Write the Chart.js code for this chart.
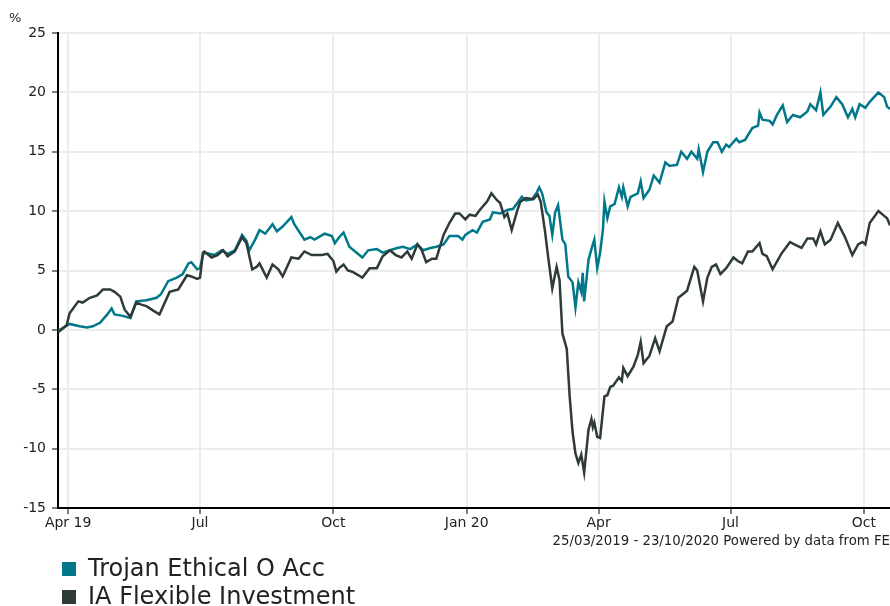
<!DOCTYPE html>
<html>
<head>
<meta charset="utf-8">
<script src="https://cdn.jsdelivr.net/npm/chart.js@4.4.0/dist/chart.umd.min.js"></script>
<style>
  body { margin: 0; background: #fff; font-family: 'DejaVu Sans', Verdana, sans-serif; }
  #wrap { position: relative; width: 890px; height: 606px; overflow: hidden; }
  #pct { position: absolute; left: 9px; top: 10px; font-size: 13px; color: #222; }
  #footer { position: absolute; right: 0; top: 533px; font-size: 13.3px; color: #222; white-space: nowrap; }
  .leg { position: absolute; left: 62px; font-size: 24px; line-height: 28px; color: #222; white-space: nowrap; }
  .leg span { display: inline-block; width: 14px; height: 14px; margin-right: 12px; vertical-align: 0px; }
</style>
</head>
<body>
<div id="wrap">
  <canvas id="perfChart" width="890" height="606"></canvas>
  <div id="pct">%</div>
  <div id="footer">25/03/2019 - 23/10/2020 Powered by data from FE</div>
  <div class="leg" style="top:554px"><span style="background:#00788a"></span>Trojan Ethical O Acc</div>
  <div class="leg" style="top:582px"><span style="background:#2e3b38"></span>IA Flexible Investment</div>
</div>
<script>
// дни от 25/03/2019
const monthDays = [7, 98, 190, 282, 373, 464, 556];
const monthLabels = ['Apr 19', 'Jul', 'Oct', 'Jan 20', 'Apr', 'Jul', 'Oct'];

// Trojan Ethical O Acc
const trojanDays = [0, 8, 15, 20, 24, 29, 34, 37, 39, 44, 50, 54, 61, 68, 71, 76, 82, 86, 90, 92, 96, 98, 100, 101,
  108, 113, 117, 122, 127, 130, 132, 136, 139, 143, 148, 151, 155, 161, 163, 170, 174, 177, 184, 189, 191, 194,
  197, 199, 201, 206, 210, 214, 220, 224, 229, 234, 238, 243, 248, 252, 257, 261, 266, 270, 276, 279, 281, 286,
  289, 293, 298, 300, 305, 310, 314, 317, 320, 323, 327, 330, 332, 334, 337, 339, 341, 343, 345, 348, 350, 352,
  355, 357, 359, 361, 362, 363, 366, 368, 370, 372, 374, 376, 377, 379, 381, 384, 387, 389, 390, 393, 395, 400,
  402, 404, 408, 411, 415, 419, 422, 427, 430, 434, 437, 441, 442, 445, 448, 452, 455, 458, 461, 463, 468, 470,
  474, 479, 483, 484, 486, 491, 493, 496, 500, 503, 507, 512, 517, 519, 523, 526, 528, 533, 537, 541, 545, 548,
  550, 553, 557, 560, 566, 570, 572, 574];
const trojanValues = [-0.1, 0.5, 0.3, 0.2, 0.3, 0.6, 1.3, 1.8, 1.3, 1.2, 1.0, 2.4, 2.5, 2.7, 3.0, 4.1, 4.4, 4.7, 5.6, 5.7, 5.1, 5.2, 6.3, 6.5,
  6.3, 6.7, 6.4, 6.7, 8.0, 7.5, 6.7, 7.6, 8.4, 8.1, 8.9, 8.3, 8.7, 9.5, 8.9, 7.6, 7.8, 7.6, 8.1, 7.9, 7.3, 7.8,
  8.2, 7.6, 7.0, 6.5, 6.1, 6.7, 6.8, 6.5, 6.7, 6.9, 7.0, 6.8, 7.2, 6.7, 6.9, 7.0, 7.2, 7.9, 7.9, 7.6, 8.0, 8.4,
  8.2, 9.1, 9.3, 9.9, 9.8, 10.1, 10.2, 10.7, 11.2, 10.9, 11.0, 11.5, 12.0, 11.5, 9.9, 9.6, 8.0, 9.9, 10.5, 7.6, 7.2, 4.5,
  4.0, 1.9, 4.0, 3.2, 4.8, 2.4, 5.9, 6.8, 7.6, 5.2, 6.5, 8.5, 10.8, 9.4, 10.4, 10.6, 12.0, 11.2, 12.0, 10.4, 11.2, 11.5,
  12.5, 11.1, 11.8, 13.0, 12.4, 14.1, 13.8, 13.9, 15.0, 14.4, 15.0, 14.4, 15.2, 13.3, 15.0, 15.8, 15.8, 15.0, 15.6, 15.4, 16.1, 15.8,
  16.0, 17.0, 17.2, 18.3, 17.7, 17.6, 17.3, 18.1, 18.9, 17.5, 18.1, 17.9, 18.4, 19.0, 18.5, 20.0, 18.1, 18.8, 19.6, 19.0, 17.9, 18.6,
  17.9, 19.0, 18.7, 19.2, 20.0, 19.6, 18.8, 18.6];

// IA Flexible Investment
const iaDays = [0, 3, 6, 8, 14, 17, 22, 27, 31, 36, 39, 43, 46, 50, 54, 58, 61, 66, 70, 77, 83, 89, 92, 96, 98, 100,
  101, 106, 110, 114, 117, 122, 127, 130, 134, 137, 139, 144, 148, 152, 155, 161, 166, 170, 175, 182, 186, 190,
  192, 194, 197, 200, 203, 210, 215, 220, 224, 229, 233, 237, 241, 244, 248, 251, 254, 258, 261, 266, 270, 274,
  277, 281, 284, 288, 291, 296, 299, 303, 305, 308, 310, 313, 317, 319, 323, 328, 331, 333, 336, 338, 341, 344,
  346, 348, 351, 353, 355, 357, 359, 361, 363, 366, 368, 369, 370, 372, 374, 377, 379, 381, 383, 387, 389, 390,
  393, 397, 400, 402, 404, 408, 412, 415, 420, 424, 428, 434, 436, 439, 441, 445, 448, 451, 454, 457, 461, 466,
  469, 472, 476, 479, 484, 486, 489, 493, 499, 502, 505, 508, 513, 517, 521, 523, 526, 529, 533, 538, 543, 545,
  548, 552, 555, 557, 560, 566, 570, 572, 574];
const iaValues = [-0.2, 0.1, 0.4, 1.4, 2.4, 2.3, 2.7, 2.9, 3.4, 3.4, 3.2, 2.8, 1.7, 1.1, 2.3, 2.1, 2.0, 1.6, 1.3, 3.2, 3.4, 4.6, 4.5, 4.3, 4.4, 6.5,
  6.6, 6.1, 6.3, 6.7, 6.2, 6.6, 7.8, 7.3, 5.1, 5.3, 5.6, 4.4, 5.5, 5.1, 4.5, 6.1, 6.0, 6.6, 6.3, 6.3, 6.4, 5.8,
  4.9, 5.2, 5.5, 5.0, 4.9, 4.4, 5.2, 5.2, 6.2, 6.7, 6.3, 6.1, 6.6, 6.0, 7.2, 6.7, 5.7, 6.0, 6.0, 8.0, 9.0, 9.8,
  9.8, 9.3, 9.7, 9.6, 10.1, 10.8, 11.5, 10.9, 10.7, 9.5, 9.8, 8.4, 10.1, 10.8, 11.1, 11.0, 11.4, 10.8, 8.3, 6.3, 3.5, 5.3,
  4.2, -0.3, -1.6, -5.6, -8.6, -10.4, -11.2, -10.5, -12.0, -8.4, -7.5, -8.2, -7.8, -9.0, -9.1, -5.6, -5.5, -4.8, -4.7, -4.0, -4.3, -3.2,
  -3.9, -3.1, -2.1, -1.0, -2.8, -2.2, -0.7, -1.8, 0.3, 0.7, 2.7, 3.3, 4.1, 5.3, 5.0, 2.4, 4.4, 5.3, 5.5, 4.7, 5.2, 6.1,
  5.8, 5.6, 6.6, 6.6, 7.3, 6.4, 6.2, 5.1, 6.4, 6.9, 7.4, 7.2, 6.9, 7.7, 7.7, 7.2, 8.3, 7.2, 7.6, 9.0, 7.8, 7.2,
  6.3, 7.2, 7.4, 7.2, 9.0, 10.0, 9.6, 9.4, 8.8];

const yTicks = [-15, -10, -5, 0, 5, 10, 15, 20, 25];

function toPoints(days, values) {
  return days.map((d, i) => ({ x: d, y: values[i] }));
}

const ctx = document.getElementById('perfChart').getContext('2d');
new Chart(ctx, {
  type: 'line',
  data: {
    datasets: [
      {
        label: 'IA Flexible Investment',
        data: toPoints(iaDays, iaValues),
        borderColor: '#2e3b38',
        borderWidth: 2.5,
        pointRadius: 0,
        tension: 0,
      },
      {
        label: 'Trojan Ethical O Acc',
        data: toPoints(trojanDays, trojanValues),
        borderColor: '#00788a',
        borderWidth: 2.5,
        pointRadius: 0,
        tension: 0,
      },
    ],
  },
  options: {
    responsive: false,
    animation: false,
    layout: { padding: { top: 33, left: 0, right: 0, bottom: 0 } },
    plugins: { legend: { display: false }, tooltip: { enabled: false } },
    scales: {
      x: {
        type: 'linear',
        min: 0,
        max: 574,
        afterBuildTicks: (axis) => { axis.ticks = monthDays.map((v) => ({ value: v })); },
        afterFit: (axis) => { axis.height = 98; },
        ticks: {
          autoSkip: false,
          maxRotation: 0,
          padding: 1,
          color: '#222',
          font: { family: 'DejaVu Sans', size: 14 },
          callback: (v) => monthLabels[monthDays.indexOf(v)],
        },
        grid: { color: '#ececec', lineWidth: 2, tickColor: '#000', tickLength: 6, tickWidth: 1 },
        border: { color: '#000', width: 2 },
      },
      y: {
        min: -15,
        max: 25,
        afterBuildTicks: (axis) => { axis.ticks = yTicks.map((v) => ({ value: v })); },
        afterFit: (axis) => { axis.width = 58; },
        ticks: {
          padding: 6,
          color: '#222',
          font: { family: 'DejaVu Sans', size: 14 },
        },
        grid: { color: '#ececec', lineWidth: 2, tickColor: '#000', tickLength: 6, tickWidth: 1 },
        border: { color: '#000', width: 2 },
      },
    },
  },
});
</script>
</body>
</html>
